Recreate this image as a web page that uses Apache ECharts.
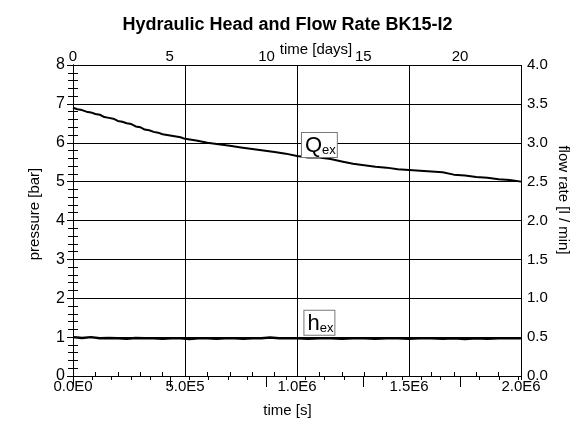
<!DOCTYPE html>
<html><head><meta charset="utf-8">
<script src="https://cdn.jsdelivr.net/npm/echarts@6/dist/echarts.min.js"></script>
<style>html,body{margin:0;padding:0;background:#fff}#c{width:575px;height:422px}</style>
</head><body><div id="c"></div>
<script>
// time [s]
var qTime = [0,2e4,4e4,6e4,8e4,1e5,1.2e5,1.4e5,1.6e5,1.8e5,2e5,2.2e5,2.4e5,2.6e5,2.8e5,3e5,3.2e5,3.4e5,3.6e5,3.8e5,4e5,4.2e5,4.4e5,4.6e5,4.8e5,5e5,5.5e5,6e5,6.5e5,7e5,7.5e5,8e5,8.5e5,9e5,9.5e5,1e6,1.05e6,1.1e6,1.15e6,1.2e6,1.25e6,1.3e6,1.35e6,1.4e6,1.45e6,1.5e6,1.55e6,1.6e6,1.65e6,1.7e6,1.75e6,1.8e6,1.85e6,1.9e6,1.95e6,2e6];
// flow rate Q_ex [l/min]
var qValues = [3.45,3.43,3.42,3.40,3.39,3.37,3.36,3.33,3.32,3.31,3.28,3.27,3.25,3.24,3.21,3.20,3.17,3.16,3.14,3.13,3.11,3.10,3.09,3.08,3.07,3.05,3.03,3.00,2.98,2.96,2.94,2.92,2.90,2.88,2.86,2.83,2.81,2.81,2.79,2.76,2.73,2.71,2.69,2.68,2.66,2.65,2.64,2.63,2.62,2.59,2.58,2.56,2.55,2.53,2.52,2.50];
var hTime = [0,2e4,4e4,8e4,1.2e5,1.6e5,2e5,2.4e5,2.8e5,3.2e5,3.6e5,4e5,4.4e5,4.8e5,5.2e5,5.6e5,6e5,6.4e5,6.8e5,7.2e5,7.6e5,8e5,8.4e5,8.8e5,9.2e5,9.6e5,1e6,1.05e6,1.1e6,1.15e6,1.2e6,1.25e6,1.3e6,1.35e6,1.4e6,1.45e6,1.5e6,1.55e6,1.6e6,1.65e6,1.7e6,1.75e6,1.8e6,1.85e6,1.9e6,1.95e6,2e6];
// hydraulic head h_ex [bar]
var hValues = [1.00,0.99,0.98,1.00,0.97,0.98,0.97,0.96,0.98,0.97,0.97,0.96,0.97,0.97,0.95,0.97,0.97,0.96,0.97,0.97,0.96,0.97,0.97,0.99,0.97,0.97,0.97,0.96,0.97,0.97,0.96,0.97,0.97,0.96,0.97,0.97,0.96,0.97,0.97,0.96,0.97,0.95,0.97,0.96,0.97,0.97,0.97];
var bottomTicks = ['0.0E0','5.0E5','1.0E6','1.5E6','2.0E6'];
var daysMax = 2e6/86400;

var F = "'Liberation Sans',Arial,sans-serif";
function zip(a,b){return a.map(function(v,i){return [v,b[i]];});}
var chart = echarts.init(document.getElementById('c'));
var axisLine = {show:true, lineStyle:{color:'#000', width:1}};
function minorAxis(pos, min, max, interval, len){
  return {type:'value', position:pos, min:min, max:max, interval:interval,
    axisLine:{show:false}, axisLabel:{show:false}, splitLine:{show:false},
    axisTick:{show:true, inside:true, length:len, lineStyle:{color:'#000'}}};
}
var boxLabel = function(fmt){
  return {show:true, position:'inside', formatter:fmt, backgroundColor:'#fff',
    borderColor:'#777', borderWidth:1, padding:[1,1,0,3],
    rich:{a:{fontSize:22, fontFamily:F, color:'#000', verticalAlign:'bottom', lineHeight:23},
          b:{fontSize:13, fontFamily:F, color:'#000', verticalAlign:'bottom', lineHeight:14}}};
};
chart.setOption({
  animation:false,
  backgroundColor:'#fff',
  title:{text:'Hydraulic Head and Flow Rate BK15-I2', left:'center', top:11,
    textStyle:{fontFamily:F, fontSize:18, fontWeight:'bold', color:'#000'}},
  grid:{left:73, right:54, top:65, bottom:46},
  xAxis:[
    {type:'value', position:'bottom', min:0, max:2e6, interval:5e5,
     axisLine:axisLine,
     axisTick:{inside:true, length:6, lineStyle:{color:'#000'}},
     splitLine:{show:true, lineStyle:{color:'#000', width:1}},
     axisLabel:{margin:3, color:'#000', fontSize:15, fontFamily:F,
       formatter:function(v){return bottomTicks[Math.round(v/5e5)];}}},
    {type:'value', position:'top', min:0, max:daysMax, interval:5,
     axisLine:axisLine,
     axisTick:{inside:true, length:11, lineStyle:{color:'#000'}},
     splitLine:{show:false},
     axisLabel:{margin:1, color:'#000', fontSize:15, fontFamily:F, showMaxLabel:false}},
    minorAxis('bottom', 0, 2e6, 1e5, 4),
    minorAxis('top', 0, daysMax, 1, 4)
  ],
  yAxis:[
    {type:'value', position:'left', min:0, max:8, interval:1,
     axisLine:axisLine,
     axisTick:{inside:true, length:6, lineStyle:{color:'#000'}},
     splitLine:{show:true, lineStyle:{color:'#000', width:1}},
     axisLabel:{margin:8, color:'#000', fontSize:16, fontFamily:F}},
    {type:'value', position:'right', min:0, max:4, interval:0.5,
     axisLine:axisLine,
     axisTick:{inside:true, length:6, lineStyle:{color:'#000'}},
     splitLine:{show:false},
     axisLabel:{margin:6, color:'#000', fontSize:15, fontFamily:F,
       formatter:function(v){return v.toFixed(1);}}},
    minorAxis('left', 0, 8, 0.2, 5),
    minorAxis('right', 0, 4, 0.1, 5)
  ],
  graphic:[
    {type:'text', left:'center', top:403, style:{text:'time [s]', font:"15px "+F, fill:'#000'}},
    {type:'text', x:316, y:50, style:{text:'time [days]', font:"15px "+F, fill:'#000', align:'center', verticalAlign:'middle'}},
    {type:'text', x:35, y:214, rotation:Math.PI/2, style:{text:'pressure [bar]', font:"15px "+F, fill:'#000', align:'center', verticalAlign:'middle'}},
    {type:'text', x:563, y:200, rotation:-Math.PI/2, style:{text:'flow rate [l / min]', font:"15px "+F, fill:'#000', align:'center', verticalAlign:'middle'}}
  ],
  series:[
    {type:'line', name:'Qex', xAxisIndex:0, yAxisIndex:1, data:zip(qTime,qValues),
     showSymbol:false, lineStyle:{color:'#000', width:2}, z:3,
     markPoint:{symbol:'rect', symbolSize:1, itemStyle:{color:'rgba(0,0,0,0)'},
       label:boxLabel('{a|Q}{b|ex}'), data:[{coord:[1.1e6, 2.97]}]}},
    {type:'line', name:'hex', xAxisIndex:0, yAxisIndex:0, data:zip(hTime,hValues),
     showSymbol:false, lineStyle:{color:'#000', width:2.5}, z:3,
     markPoint:{symbol:'rect', symbolSize:1, itemStyle:{color:'rgba(0,0,0,0)'},
       label:boxLabel('{a|h}{b|ex}'), data:[{coord:[1.1e6, 1.37]}]}}
  ]
});
</script></body></html>
